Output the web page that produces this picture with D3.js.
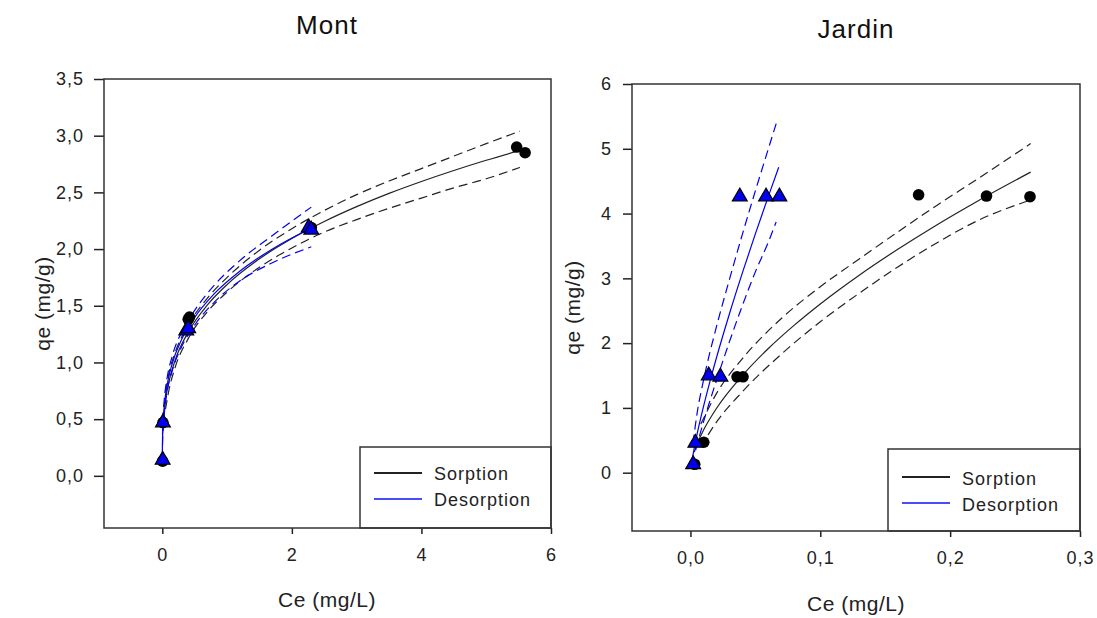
<!DOCTYPE html>
<html>
<head>
<meta charset="utf-8">
<script src="https://cdn.jsdelivr.net/npm/d3@7"></script>
<style>
  html, body { margin: 0; padding: 0; background: #fff; }
  svg { display: block; font-family: Arial, "Liberation Sans", sans-serif; }
</style>
</head>
<body>
<svg id="chart" width="1097" height="618"></svg>
<script>
// ---------- Mont ----------
const montSorpCe = [0.005, 0.01, 0.40, 0.42, 2.30, 5.47, 5.60];
const montSorpQe = [0.13, 0.47, 1.38, 1.40, 2.19, 2.90, 2.85];
const montDesCe = [0.005, 0.01, 0.37, 0.40, 2.26, 2.30];
const montDesQe = [0.14, 0.47, 1.28, 1.30, 2.19, 2.17];

// Freundlich fit lines with 95% confidence bands
const montSorpFitCe = [0.01, 0.05, 0.1, 0.2, 0.4, 0.7, 1, 1.5, 2, 2.5, 3, 3.5, 4, 4.5, 5, 5.52];
const montSorpFitQe = [0.40, 0.665, 0.824, 1.023, 1.268, 1.510, 1.687, 1.914, 2.093, 2.243, 2.374, 2.491, 2.596, 2.693, 2.783, 2.870];
const montSorpBandCe = [0.05, 0.1, 0.2, 0.4, 0.7, 1, 1.5, 2, 2.5, 3, 3.5, 4, 4.5, 5, 5.52];
const montSorpUpQe = [0.74, 0.90, 1.09, 1.33, 1.57, 1.75, 1.99, 2.18, 2.34, 2.48, 2.60, 2.71, 2.82, 2.93, 3.04];
const montSorpLoQe = [0.59, 0.75, 0.96, 1.21, 1.45, 1.62, 1.84, 2.01, 2.15, 2.26, 2.36, 2.45, 2.54, 2.62, 2.72];

const montDesFitCe = [0.0002, 0.001, 0.004, 0.01, 0.03, 0.07, 0.15, 0.3, 0.5, 0.8, 1.2, 1.7, 2.3];
const montDesFitQe = [0.141, 0.226, 0.340, 0.445, 0.613, 0.786, 0.983, 1.204, 1.398, 1.605, 1.807, 2.001, 2.186];
const montDesBandCe = [0.003, 0.01, 0.03, 0.07, 0.15, 0.3, 0.5, 0.8, 1.2, 1.7, 2.3];
const montDesUpQe = [0.36, 0.50, 0.67, 0.85, 1.05, 1.27, 1.46, 1.68, 1.90, 2.12, 2.37];
const montDesLoQe = [0.27, 0.40, 0.56, 0.73, 0.92, 1.14, 1.33, 1.53, 1.72, 1.88, 2.02];

const montXTicks = [0, 2, 4, 6];
const montYTicks = [0, 0.5, 1, 1.5, 2, 2.5, 3, 3.5];

// ---------- Jardin ----------
const jardinSorpCe = [0.0033, 0.0103, 0.0359, 0.0405, 0.1757, 0.228, 0.2615];
const jardinSorpQe = [0.13, 0.47, 1.48, 1.48, 4.29, 4.27, 4.26];
const jardinDesCe = [0.0021, 0.0038, 0.0141, 0.0231, 0.038, 0.0582, 0.0685];
const jardinDesQe = [0.13, 0.46, 1.50, 1.48, 4.26, 4.26, 4.26];

const jardinSorpFitCe = [0.003, 0.005, 0.01, 0.02, 0.04, 0.06, 0.08, 0.1, 0.13, 0.16, 0.19, 0.22, 0.262];
const jardinSorpFitQe = [0.318, 0.432, 0.654, 0.991, 1.50, 1.917, 2.278, 2.605, 3.049, 3.453, 3.829, 4.180, 4.64];
const jardinSorpBandCe = [0.008, 0.02, 0.04, 0.07, 0.1, 0.13, 0.16, 0.19, 0.22, 0.262];
const jardinSorpUpQe = [0.75, 1.22, 1.76, 2.38, 2.87, 3.30, 3.72, 4.13, 4.52, 5.08];
const jardinSorpLoQe = [0.40, 0.78, 1.25, 1.83, 2.33, 2.77, 3.18, 3.55, 3.88, 4.21];

const jardinDesFitCe = [0.0005, 0.001, 0.003, 0.006, 0.01, 0.015, 0.02, 0.03, 0.04, 0.05, 0.06, 0.068];
const jardinDesFitQe = [0.093, 0.161, 0.388, 0.676, 1.017, 1.407, 1.771, 2.450, 3.084, 3.687, 4.266, 4.716];
const jardinDesUpCe = [0.002, 0.005, 0.01, 0.02, 0.03, 0.04, 0.05, 0.06, 0.067];
const jardinDesUpQe = [0.45, 0.90, 1.42, 2.25, 2.98, 3.68, 4.35, 5.00, 5.45];
const jardinDesLoCe = [0.004, 0.01, 0.02, 0.03, 0.04, 0.05, 0.06, 0.066];
const jardinDesLoQe = [0.35, 0.78, 1.42, 2.02, 2.58, 3.10, 3.56, 3.87];

const jardinXTicks = [0, 0.1, 0.2, 0.3];
const jardinYTicks = [0, 1, 2, 3, 4, 5, 6];

const legendLabels = ["Sorption", "Desorption"];

// ---------- drawing ----------
const svg = d3.select("#chart");
const INK = "#222";
const BLUE = "#0000ee";
const comma = f => (v => f(v).replace(".", ","));
const zip = (xs, ys) => xs.map((x, i) => [x, ys[i]]);

function panel(cfg) {
  const x = d3.scaleLinear().domain(cfg.xDomain).range([cfg.box.x0, cfg.box.x1]);
  const y = d3.scaleLinear().domain(cfg.yDomain).range([cfg.box.y1, cfg.box.y0]);
  const g = svg.append("g");

  // axes
  const ya = g.append("g").attr("transform", `translate(${cfg.box.x0},0)`)
    .call(d3.axisLeft(y).tickValues(cfg.yTicks).tickSize(cfg.yTickLen)
      .tickPadding(cfg.yPad).tickFormat(cfg.yFmt));
  const xa = g.append("g").attr("transform", `translate(0,${cfg.box.y1})`)
    .call(d3.axisBottom(x).tickValues(cfg.xTicks).tickSize(6)
      .tickPadding(14).tickFormat(cfg.xFmt));
  [ya, xa].forEach(a => {
    a.select(".domain").remove();
    a.selectAll("line").attr("stroke", INK).attr("stroke-width", 1.5);
    a.selectAll("text").attr("fill", INK)
      .style("font-size", "18px").style("letter-spacing", "1px");
  });

  const line = d3.line().x(d => x(d[0])).y(d => y(d[1])).curve(d3.curveMonotoneX);
  const plot = g.append("g");

  function curve(data, color, dashed) {
    plot.append("path").datum(data).attr("d", line)
      .attr("fill", "none").attr("stroke", color)
      .attr("stroke-width", 1.2)
      .attr("stroke-dasharray", dashed ? "9,5" : null);
  }
  cfg.sorpBands.forEach(b => curve(b, INK, true));
  curve(cfg.sorpFit, INK, false);
  cfg.desBands.forEach(b => curve(b, BLUE, true));
  curve(cfg.desFit, BLUE, false);

  // observed points
  plot.selectAll("circle.sorp").data(cfg.sorpPts).join("circle")
    .attr("cx", d => x(d[0])).attr("cy", d => y(d[1])).attr("r", 5.8)
    .attr("fill", "#000");
  const tri = d3.symbol().type(d3.symbolTriangle).size(95);
  plot.selectAll("path.des").data(cfg.desPts).join("path")
    .attr("d", tri)
    .attr("transform", d => `translate(${x(d[0])},${y(d[1])})`)
    .attr("fill", BLUE).attr("stroke", "#000").attr("stroke-width", 1.2);

  // legend
  const L = cfg.legend;
  g.append("rect").attr("x", L.x0).attr("y", L.y0)
    .attr("width", cfg.box.x1 - L.x0).attr("height", cfg.box.y1 - L.y0)
    .attr("fill", "#fff").attr("stroke", "#333").attr("stroke-width", 1.5);
  legendLabels.forEach((name, i) => {
    const ly = L.lineY + i * 26;
    g.append("line").attr("x1", L.lx0).attr("x2", L.lx0 + 48)
      .attr("y1", ly).attr("y2", ly)
      .attr("stroke", i === 0 ? "#222" : "#4a4aff").attr("stroke-width", 1.8);
    g.append("text").attr("x", L.tx).attr("y", L.textY + i * 26)
      .attr("fill", INK).style("font-size", "18px").style("letter-spacing", "1px")
      .text(name);
  });

  // frame
  g.append("rect").attr("x", cfg.box.x0).attr("y", cfg.box.y0)
    .attr("width", cfg.box.x1 - cfg.box.x0).attr("height", cfg.box.y1 - cfg.box.y0)
    .attr("fill", "none").attr("stroke", "#333").attr("stroke-width", 1.5);

  // titles
  g.append("text").attr("x", cfg.titleX).attr("y", cfg.titleY)
    .attr("text-anchor", "middle").attr("fill", "#111")
    .style("font-size", "26px").style("letter-spacing", "1px").text(cfg.title);
  g.append("text").attr("x", cfg.titleX).attr("y", cfg.xLabelY)
    .attr("text-anchor", "middle").attr("fill", INK)
    .style("font-size", "21px").style("letter-spacing", "0.5px").text("Ce (mg/L)");
  g.append("text")
    .attr("transform", `translate(${cfg.yLabelX},${(cfg.box.y0 + cfg.box.y1) / 2}) rotate(-90)`)
    .attr("text-anchor", "middle").attr("fill", INK)
    .style("font-size", "21px").style("letter-spacing", "0.5px").text("qe (mg/g)");
}

panel({
  title: "Mont", titleX: 327, titleY: 34, xLabelY: 607, yLabelX: 50,
  box: { x0: 104, x1: 551, y0: 79, y1: 528 },
  xDomain: [-0.9, 6], yDomain: [-0.46, 3.5],
  xTicks: montXTicks, yTicks: montYTicks,
  xFmt: d3.format("d"), yFmt: comma(d3.format(".1f")),
  yTickLen: 10, yPad: 10,
  sorpPts: zip(montSorpCe, montSorpQe),
  desPts: zip(montDesCe, montDesQe),
  sorpFit: zip(montSorpFitCe, montSorpFitQe),
  sorpBands: [zip(montSorpBandCe, montSorpUpQe), zip(montSorpBandCe, montSorpLoQe)],
  desFit: zip(montDesFitCe, montDesFitQe),
  desBands: [zip(montDesBandCe, montDesUpQe), zip(montDesBandCe, montDesLoQe)],
  legend: { x0: 360, y0: 447, lx0: 374, lineY: 473, tx: 434, textY: 480 }
});

panel({
  title: "Jardin", titleX: 856, titleY: 38, xLabelY: 611, yLabelX: 580,
  box: { x0: 632, x1: 1080, y0: 84, y1: 531 },
  xDomain: [-0.045, 0.3], yDomain: [-0.9, 6],
  xTicks: jardinXTicks, yTicks: jardinYTicks,
  xFmt: comma(d3.format(".1f")), yFmt: d3.format("d"),
  yTickLen: 9, yPad: 11,
  sorpPts: zip(jardinSorpCe, jardinSorpQe),
  desPts: zip(jardinDesCe, jardinDesQe),
  sorpFit: zip(jardinSorpFitCe, jardinSorpFitQe),
  sorpBands: [zip(jardinSorpBandCe, jardinSorpUpQe), zip(jardinSorpBandCe, jardinSorpLoQe)],
  desFit: zip(jardinDesFitCe, jardinDesFitQe),
  desBands: [zip(jardinDesUpCe, jardinDesUpQe), zip(jardinDesLoCe, jardinDesLoQe)],
  legend: { x0: 888, y0: 449, lx0: 902, lineY: 477, tx: 962, textY: 485 }
});
</script>
</body>
</html>
